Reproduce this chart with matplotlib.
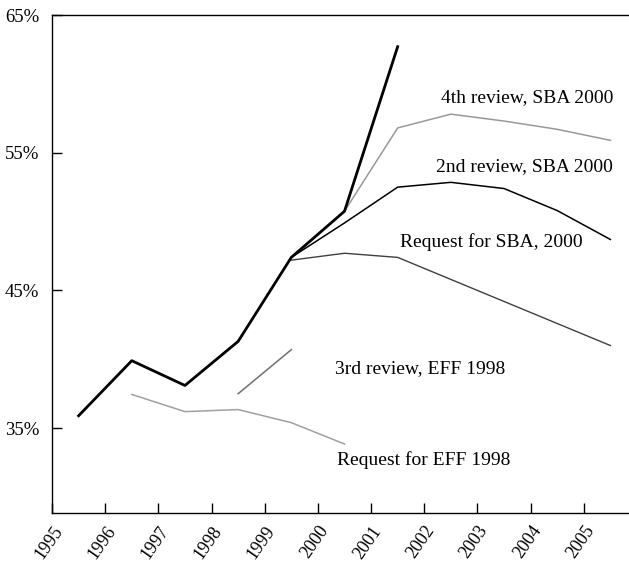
import numpy as np
import matplotlib.pyplot as plt
import matplotlib.transforms as mtransforms

# data (share of GDP, %), points plotted at mid-year
actual_years = [1995.5, 1996.5, 1997.5, 1998.5, 1999.5, 2000.5, 2001.5]
actual_vals  = [35.9, 39.9, 38.1, 41.3, 47.4, 50.75, 62.7]

sba_years = [1999.5, 2000.5, 2001.5, 2002.5, 2003.5, 2004.5, 2005.5]
review4_vals = [47.4, 50.75, 56.8, 57.8, 57.3, 56.7, 55.9]
review2_vals = [47.4, 49.9, 52.5, 52.85, 52.4, 50.8, 48.7]
req_sba_vals = [47.2, 47.7, 47.4, 45.8, 44.2, 42.6, 41.0]

eff3_years = [1998.5, 1999.5]
eff3_vals  = [37.5, 40.7]

req_eff_years = [1996.5, 1997.5, 1998.5, 1999.5, 2000.5]
req_eff_vals  = [37.45, 36.2, 36.35, 35.4, 33.85]

year_ticks = list(range(1995, 2006))
pct_ticks = [35, 45, 55, 65]

plt.rcParams['font.family'] = ['Liberation Serif', 'DejaVu Serif']

fig = plt.figure(figsize=(6.29, 5.63), dpi=100)
ax = fig.add_axes([52 / 629, 50 / 563, 577 / 629, 498 / 563])

ax.plot(actual_years, actual_vals, color='black', lw=2.0, zorder=5)
ax.plot(sba_years, review4_vals, color='#999999', lw=1.1, zorder=3)
ax.plot(sba_years, review2_vals, color='black', lw=1.1, zorder=4)
ax.plot(sba_years, req_sba_vals, color='#404040', lw=1.0, zorder=3)
ax.plot(eff3_years, eff3_vals, color='#707070', lw=1.1, zorder=3)
ax.plot(req_eff_years, req_eff_vals, color='#a0a0a0', lw=1.1, zorder=3)

# series labels
fs = 14
ax.text(2005.55, 59.0, '4th review, SBA 2000', fontsize=fs, ha='right', va='center')
ax.text(2005.55, 54.0, '2nd review, SBA 2000', fontsize=fs, ha='right', va='center')
ax.text(2001.55, 48.5, 'Request for SBA, 2000', fontsize=fs, ha='left', va='center')
ax.text(2000.32, 39.3, '3rd review, EFF 1998', fontsize=fs, ha='left', va='center')
ax.text(2000.35, 32.7, 'Request for EFF 1998', fontsize=fs, ha='left', va='center')

ax.set_xlim(1995, 2005.85)
ax.set_ylim(28.84, 65)

ax.set_xticks(year_ticks)
ax.set_xticklabels([str(y) for y in year_ticks], rotation=55, ha='right',
                   rotation_mode='anchor', fontsize=13)
# nudge rotated year labels a little to the right
shift = mtransforms.ScaledTranslation(7 / 100, 0, fig.dpi_scale_trans)
for lab in ax.get_xticklabels():
    lab.set_transform(lab.get_transform() + shift)

ax.set_yticks(pct_ticks)
ax.set_yticklabels(['%d%%' % p for p in pct_ticks], fontsize=13.5)

ax.tick_params(direction='in', length=7, width=1.0)
ax.tick_params(axis='x', pad=7)
ax.tick_params(axis='y', pad=9)

ax.spines['right'].set_visible(False)
for s in ('left', 'top', 'bottom'):
    ax.spines[s].set_linewidth(1.0)

fig.savefig('out.png', dpi=100)
